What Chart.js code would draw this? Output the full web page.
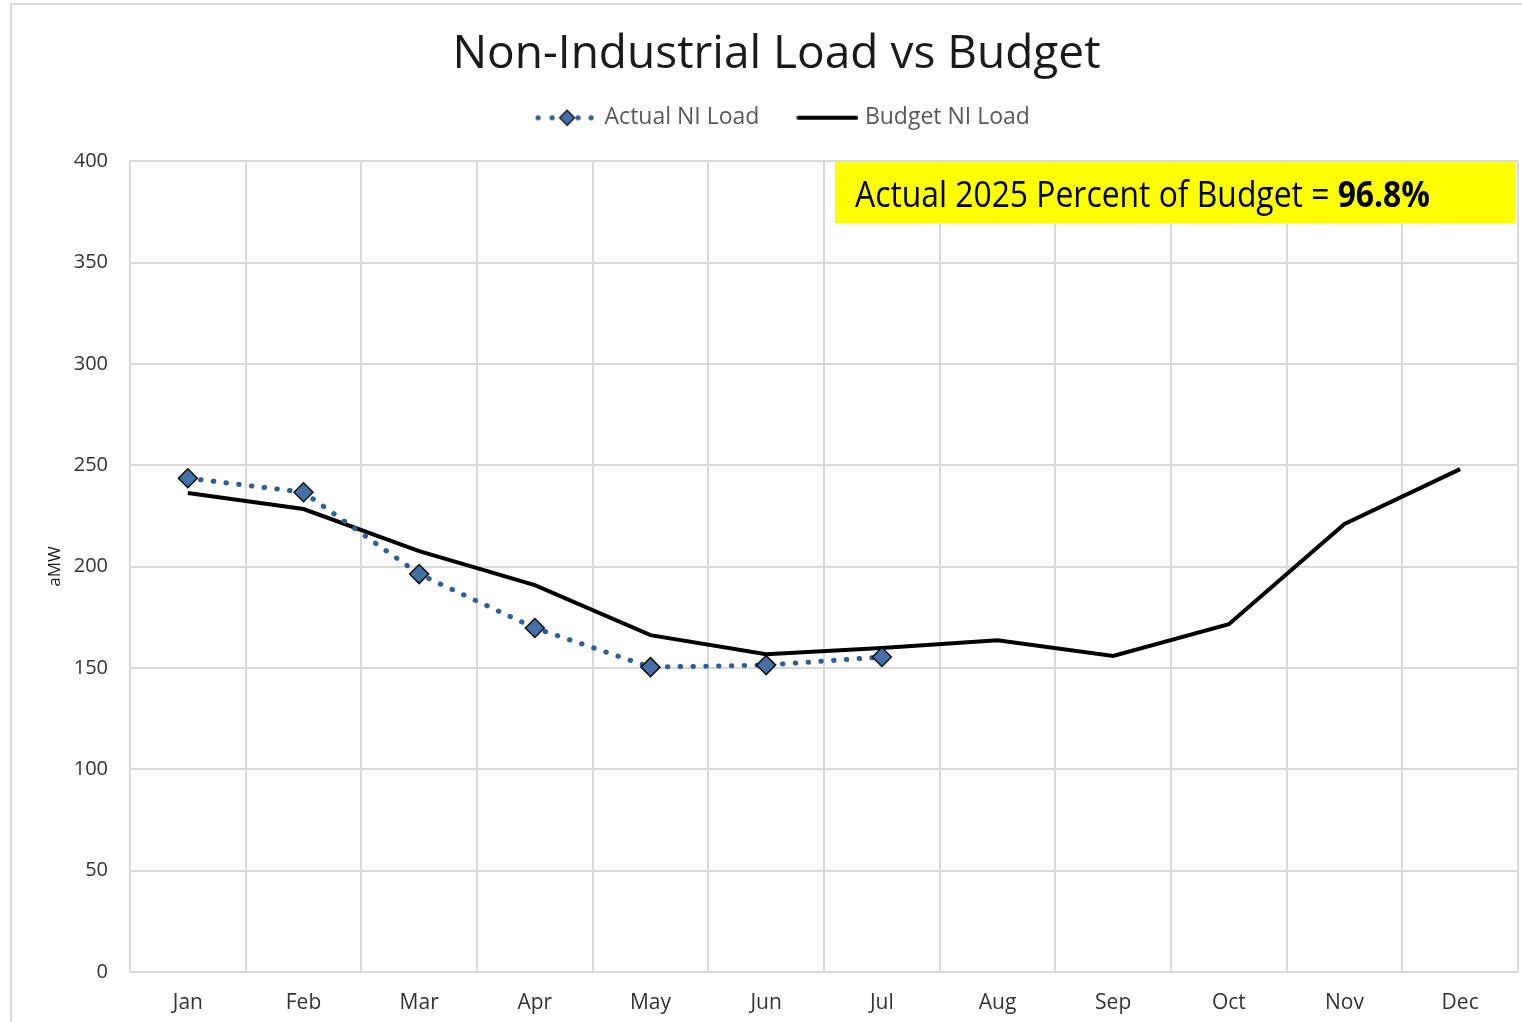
<!DOCTYPE html>
<html>
<head>
<meta charset="utf-8">
<title>Non-Industrial Load vs Budget</title>
<script src="https://cdn.jsdelivr.net/npm/chart.js@4.4.1/dist/chart.umd.min.js"></script>
<style>
    html, body { margin: 0; padding: 0; background: #fff; overflow: hidden; }
    #wrap { position: relative; width: 1522px; height: 1022px; }
</style>
</head>
<body>
<div id="wrap"><canvas id="loadChart"></canvas></div>
<script>
// === Data ===
const months = ['Jan', 'Feb', 'Mar', 'Apr', 'May', 'Jun', 'Jul', 'Aug', 'Sep', 'Oct', 'Nov', 'Dec'];
const actualLoad = [243.6, 236.7, 196.3, 169.7, 150.4, 151.4, 155.4];
const budgetLoad = [236.3, 228.4, 207.6, 190.9, 166.2, 156.8, 159.8, 163.7, 155.9, 171.6, 221.0, 248.1];
const yMin = 0, yMax = 400, yStep = 50;
const percentLabel = 'Actual 2025 Percent of Budget = ';
const percentValue = '96.8%';

const FONT = "'Open Sans', 'Noto Sans', sans-serif";
const ACTUAL_LINE = '#2f5d95';
const ACTUAL_FILL = '#4470a6';
const GRID = '#d9d9d9';

// === Legend icons (drawn into small canvases, used as point styles) ===
function makeIcon(drawFn) {
    const c = document.createElement('canvas');
    c.width = 80;
    c.height = 22;
    drawFn(c.getContext('2d'));
    return c;
}
const actualIcon = makeIcon(ctx => {
    ctx.fillStyle = ACTUAL_LINE;
    [20, 34, 60, 73].forEach(x => {
        ctx.beginPath();
        ctx.arc(x, 11, 2.6, 0, Math.PI * 2);
        ctx.fill();
    });
    ctx.beginPath();
    ctx.moveTo(49 - 7.5, 11);
    ctx.lineTo(49, 11 - 7.5);
    ctx.lineTo(49 + 7.5, 11);
    ctx.lineTo(49, 11 + 7.5);
    ctx.closePath();
    ctx.fillStyle = ACTUAL_FILL;
    ctx.fill();
    ctx.lineWidth = 1.3;
    ctx.strokeStyle = '#111';
    ctx.stroke();
});
const budgetIcon = makeIcon(ctx => {
    ctx.strokeStyle = '#000';
    ctx.lineWidth = 4;
    ctx.lineCap = 'round';
    ctx.beginPath();
    ctx.moveTo(20, 11);
    ctx.lineTo(78, 11);
    ctx.stroke();
});
const legendIcons = [actualIcon, budgetIcon];

// === Plugins ===
const frame = {
    id: 'frame',
    beforeDraw(chart) {
        const ctx = chart.ctx;
        ctx.save();
        ctx.fillStyle = '#fff';
        ctx.fillRect(0, 0, chart.width, chart.height);
        ctx.strokeStyle = GRID;
        ctx.lineWidth = 2;
        ctx.strokeRect(11, 4, chart.width + 10, chart.height + 10);
        ctx.restore();
    }
};

// extra space between the legend and the plot area
const legendGap = {
    id: 'legendGap',
    beforeLayout(chart) {
        const lg = chart.legend;
        if (lg && !lg._gapPatched) {
            const fit = lg.fit;
            lg.fit = function () {
                fit.call(this);
                this.height += 22;
            };
            lg._gapPatched = true;
        }
    }
};

const percentBox = {
    id: 'percentBox',
    afterDraw(chart) {
        const {ctx, chartArea} = chart;
        const x = chartArea.right - 683;
        const y = chartArea.top + 1;
        ctx.save();
        ctx.fillStyle = '#ffff00';
        ctx.fillRect(x, y, 681, 61);
        ctx.font = `36px ${FONT}`;
        const w1 = ctx.measureText(percentLabel).width;
        ctx.font = `bold 36px ${FONT}`;
        const w2 = ctx.measureText(percentValue).width;
        const sx = 575 / (w1 + w2);
        ctx.translate(x + 20, y + 45);
        ctx.scale(sx, 1);
        ctx.fillStyle = '#000';
        ctx.textBaseline = 'alphabetic';
        ctx.font = `36px ${FONT}`;
        ctx.fillText(percentLabel, 0, 0);
        ctx.font = `bold 36px ${FONT}`;
        ctx.fillText(percentValue, w1, 0);
        ctx.restore();
    }
};

// === Chart ===
const ctx = document.getElementById('loadChart').getContext('2d');
new Chart(ctx, {
    type: 'line',
    data: {
        labels: months,
        datasets: [{
            label: 'Actual NI Load',
            data: actualLoad,
            borderColor: ACTUAL_LINE,
            borderWidth: 5,
            borderDash: [0.5, 12.3],
            borderCapStyle: 'round',
            pointStyle: 'rectRot',
            pointRadius: 9.5,
            pointBackgroundColor: ACTUAL_FILL,
            pointBorderColor: '#111',
            pointBorderWidth: 1.5,
            tension: 0,
            order: 0
        }, {
            label: 'Budget NI Load',
            data: budgetLoad,
            borderColor: '#000',
            borderWidth: 4,
            pointRadius: 0,
            tension: 0,
            order: 1
        }]
    },
    options: {
        responsive: true,
        maintainAspectRatio: false,
        animation: false,
        layout: { autoPadding: false, padding: { left: 35, right: 4, top: 0, bottom: 0 } },
        plugins: {
            title: {
                display: true,
                text: 'Non-Industrial Load vs Budget',
                color: '#1a1a1a',
                font: { family: FONT, size: 46, weight: 'normal', lineHeight: 1.2 },
                padding: { top: 27, bottom: 0 }
            },
            legend: {
                display: true,
                position: 'top',
                labels: {
                    usePointStyle: true,
                    pointStyleWidth: 70,
                    padding: 24,
                    color: '#595959',
                    font: { family: FONT, size: 23 },
                    generateLabels(chart) {
                        const items = Chart.defaults.plugins.legend.labels.generateLabels(chart);
                        items.forEach((item, i) => { item.pointStyle = legendIcons[i]; });
                        return items;
                    }
                }
            },
            tooltip: { enabled: false }
        },
        scales: {
            x: {
                offset: true,
                grid: { display: true, offset: true, color: GRID, lineWidth: 2, drawTicks: false },
                border: { display: true, color: GRID, width: 2 },
                ticks: { color: '#333', font: { family: FONT, size: 21 }, padding: 18 },
                afterFit(scale) { scale.height = 50; }
            },
            y: {
                min: yMin,
                max: yMax,
                ticks: { stepSize: yStep, color: '#333', font: { family: FONT, size: 20 }, padding: 22 },
                grid: { color: GRID, lineWidth: 2, drawTicks: false },
                border: { display: true, color: GRID, width: 2 },
                title: {
                    display: true,
                    text: 'aMW',
                    color: '#1a1a1a',
                    font: { family: FONT, size: 17 },
                    padding: { top: 10, bottom: 0 }
                },
                afterFit(scale) { scale.width = 95; }
            }
        }
    },
    plugins: [frame, legendGap, percentBox]
});
</script>
</body>
</html>
